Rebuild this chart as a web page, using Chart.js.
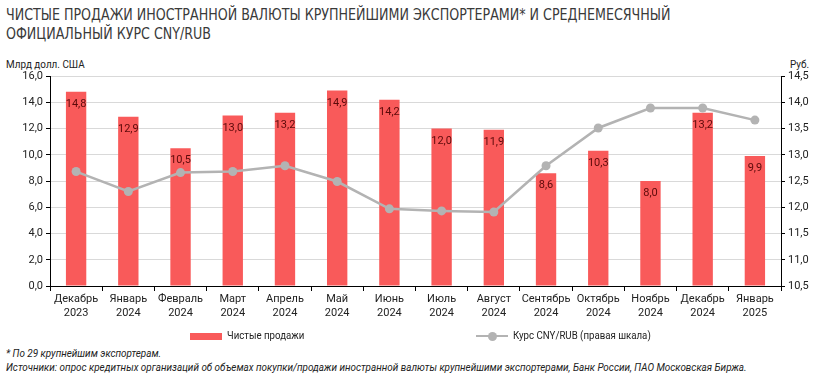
<!DOCTYPE html>
<html>
<head>
<meta charset="utf-8">
<script src="https://cdn.jsdelivr.net/npm/chart.js@4.4.1/dist/chart.umd.min.js"></script>
<style>
  html,body{margin:0;padding:0;background:#fff;}
  body{width:824px;height:382px;position:relative;overflow:hidden;font-family:Roboto,"Noto Sans",sans-serif;}
  .title{position:absolute;left:6px;top:5px;font-family:"Liberation Sans Narrow","DejaVu Sans Condensed",Roboto,sans-serif;font-size:16px;line-height:19px;color:#3a3a3a;transform:scaleX(0.88);transform-origin:0 0;white-space:nowrap;}
  .ylab{position:absolute;top:58px;font-family:Roboto,sans-serif;font-size:11px;color:#222;transform:scaleX(0.9);transform-origin:0 0;white-space:nowrap;}
  #wrap{position:absolute;left:0;top:0;width:824px;height:330px;}
  .leg{position:absolute;top:329px;font-size:11px;color:#222;font-family:Roboto,"Noto Sans",sans-serif;white-space:nowrap;}
  .leg .t{display:inline-block;transform:scaleX(0.88);transform-origin:0 50%;}
  .foot{position:absolute;left:6px;font-family:Roboto,"Noto Sans",sans-serif;font-style:italic;font-size:11px;color:#222;transform:scaleX(0.9);transform-origin:0 0;white-space:nowrap;}
</style>
</head>
<body>
<div class="title">ЧИСТЫЕ ПРОДАЖИ ИНОСТРАННОЙ ВАЛЮТЫ КРУПНЕЙШИМИ ЭКСПОРТЕРАМИ* И СРЕДНЕМЕСЯЧНЫЙ<br>ОФИЦИАЛЬНЫЙ КУРС CNY/RUB</div>
<div class="ylab" style="left:6px;">Млрд долл. США</div>
<div class="ylab" style="left:790px;">Руб.</div>
<div id="wrap"><canvas id="c"></canvas></div>
<div class="leg" style="left:190px;"><span style="display:inline-block;width:32px;height:7px;background:#F95A5A;vertical-align:middle;margin-right:5px;"></span><span class="t">Чистые продажи</span></div>
<div class="leg" style="left:476px;"><span style="display:inline-block;position:relative;width:32px;height:9px;vertical-align:middle;margin-right:5px;"><span style="position:absolute;left:0;top:3.5px;width:32px;height:2px;background:#B3B3B3;"></span><span style="position:absolute;left:12px;top:0;width:9px;height:9px;border-radius:50%;background:#B3B3B3;"></span></span><span class="t">Курс CNY/RUB (правая шкала)</span></div>
<div class="foot" style="top:347px;">* По 29 крупнейшим экспортерам.</div>
<div class="foot" style="top:361px;">Источники: опрос кредитных организаций об объемах покупки/продажи иностранной валюты крупнейшими экспортерами, Банк России, ПАО Московская Биржа.</div>
<script>
const categories = [
  ["Декабрь","2023"],["Январь","2024"],["Февраль","2024"],["Март","2024"],["Апрель","2024"],
  ["Май","2024"],["Июнь","2024"],["Июль","2024"],["Август","2024"],["Сентябрь","2024"],
  ["Октябрь","2024"],["Ноябрь","2024"],["Декабрь","2024"],["Январь","2025"]
];
const netSales = [14.8, 12.9, 10.5, 13.0, 13.2, 14.9, 14.2, 12.0, 11.9, 8.6, 10.3, 8.0, 13.2, 9.9];
const cnyRub = [12.68, 12.30, 12.66, 12.68, 12.79, 12.49, 11.97, 11.93, 11.91, 12.79, 13.51, 13.89, 13.89, 13.66];
const seriesNames = ["Чистые продажи", "Курс CNY/RUB (правая шкала)"];

const fmt = v => v.toFixed(1).replace('.', ',');

const barLabels = {
  id: 'barLabels',
  afterDatasetsDraw(chart) {
    const ctx = chart.ctx;
    const meta = chart.getDatasetMeta(1);
    ctx.save();
    ctx.font = '11px Roboto, "Noto Sans", sans-serif';
    ctx.fillStyle = '#5C0A0A';
    ctx.textAlign = 'center';
    ctx.textBaseline = 'top';
    meta.data.forEach((bar, i) => {
      ctx.fillText(fmt(netSales[i]), bar.x, bar.y + 7);
    });
    ctx.restore();
  }
};

new Chart(document.getElementById('c'), {
  data: {
    labels: categories,
    datasets: [
      {
        type: 'line', label: seriesNames[1], data: cnyRub, yAxisID: 'y1',
        borderColor: '#B3B3B3', backgroundColor: '#B3B3B3', borderWidth: 2.5,
        pointRadius: 4.5, pointHoverRadius: 4.5, pointBackgroundColor: '#B3B3B3', pointBorderWidth: 0,
        tension: 0, order: 0
      },
      {
        type: 'bar', label: seriesNames[0], data: netSales, yAxisID: 'y',
        backgroundColor: '#F95A5A', barPercentage: 0.78, categoryPercentage: 0.5, order: 1
      }
    ]
  },
  plugins: [barLabels],
  options: {
    responsive: true, maintainAspectRatio: false, animation: false,
    layout: { padding: { top: 76, left: 0, right: 0, bottom: 0 } },
    plugins: { legend: { display: false }, tooltip: { enabled: false } },
    scales: {
      x: {
        offset: true,
        grid: { display: true, drawOnChartArea: false, offset: true, tickLength: 5, color: '#000' },
        border: { color: '#000', width: 1 },
        ticks: { color: '#222', font: { size: 11, family: 'Roboto, "Noto Sans", sans-serif' }, maxRotation: 0, autoSkip: false, padding: 2 },
        afterFit(s) { s.height = 44; }
      },
      y: {
        position: 'left', min: 0, max: 16,
        ticks: { stepSize: 2, color: '#222', font: { size: 11, family: 'Roboto, "Noto Sans", sans-serif' }, callback: v => fmt(v), padding: 3 },
        grid: { color: '#D9D9D9', tickColor: '#000', tickLength: 4, drawTicks: true },
        border: { color: '#000', width: 1 },
        afterFit(s) { s.width = 50; }
      },
      y1: {
        position: 'right', min: 10.5, max: 14.5,
        ticks: { stepSize: 0.5, color: '#222', font: { size: 11, family: 'Roboto, "Noto Sans", sans-serif' }, callback: v => fmt(v), padding: 3 },
        grid: { drawOnChartArea: false, tickColor: '#000', tickLength: 4 },
        border: { color: '#000', width: 1 },
        afterFit(s) { s.width = 43; }
      }
    }
  }
});
</script>
</body>
</html>
